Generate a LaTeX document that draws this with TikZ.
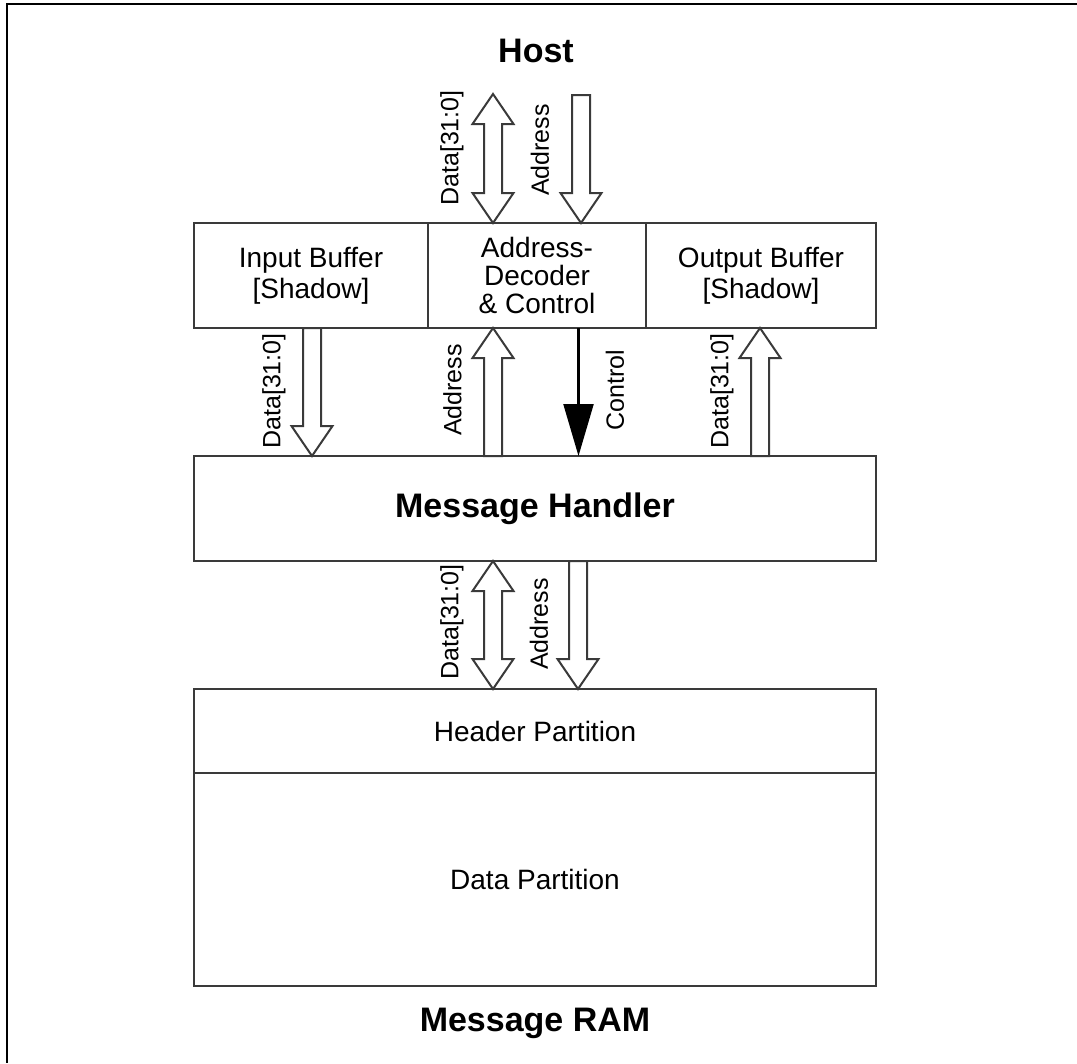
\documentclass[tikz,border=0pt]{standalone}
\usepackage{fontspec}
\setmainfont{Liberation Sans}
\usetikzlibrary{calc,arrows.meta}
\definecolor{boxgray}{HTML}{3A3A3A}
\tikzset{
  box/.style={draw=boxgray, line width=1.5pt, inner sep=0pt, outer sep=0pt, align=center, font=\fontsize{21}{23.25}\selectfont},
  blk/.style={draw=boxgray, fill=white, line width=1.5pt, line join=miter},
  rlab/.style={rotate=90, font=\fontsize{18.75}{20}\selectfont, inner sep=0pt},
  biglab/.style={font=\bfseries\fontsize{25.5}{27}\selectfont, inner sep=0pt},
  ctrl/.style={draw=black, line width=1.6pt, -{Triangle[length=39pt,width=22.5pt]}},
  frame/.style={draw=black, line width=1.6pt, line join=miter}
}
\newcommand\BlkDown[2]{%
  \draw[blk] let \p1=(#1), \p2=(#2) in
  (\x2-6.75pt,\y1) -- (\x2-6.75pt,\y2+22.5pt) -- (\x2-15.375pt,\y2+22.5pt) -- (\x2,\y2)
  -- (\x2+15.375pt,\y2+22.5pt) -- (\x2+6.75pt,\y2+22.5pt) -- (\x2+6.75pt,\y1) -- cycle;}
\newcommand\BlkUp[2]{%
  \draw[blk] let \p1=(#1), \p2=(#2) in
  (\x2-6.75pt,\y1) -- (\x2-6.75pt,\y2-22.5pt) -- (\x2-15.375pt,\y2-22.5pt) -- (\x2,\y2)
  -- (\x2+15.375pt,\y2-22.5pt) -- (\x2+6.75pt,\y2-22.5pt) -- (\x2+6.75pt,\y1) -- cycle;}
\newcommand\BlkBoth[2]{%
  \draw[blk] let \p1=(#1), \p2=(#2) in
  (\x1,\y1) -- (\x1+15.375pt,\y1-22.5pt) -- (\x1+6.75pt,\y1-22.5pt) -- (\x1+6.75pt,\y2+22.5pt)
  -- (\x1+15.375pt,\y2+22.5pt) -- (\x1,\y2) -- (\x1-15.375pt,\y2+22.5pt) -- (\x1-6.75pt,\y2+22.5pt)
  -- (\x1-6.75pt,\y1-22.5pt) -- (\x1-15.375pt,\y1-22.5pt) -- cycle;}
\begin{document}
\begin{tikzpicture}[x=0.75pt,y=-0.75pt]
\useasboundingbox (0,0) rectangle (1077,1063);
% outer frame (top and left edges visible)
\coordinate (fr1) at (1077,4);
\coordinate (fr2) at (7,4);
\coordinate (fr3) at (7,1063);
\draw[frame] (fr1) -- (fr2) -- (fr3);

% labels
\node[biglab] (host) at (536,51) {Host};

% top row
\node[box, minimum width=175.5pt, minimum height=78.75pt] (ib) at (311,275.5) {Input Buffer\\{[Shadow]}};
\node[box, minimum width=163.5pt, minimum height=78.75pt, font=\fontsize{21}{21.25}\selectfont] (adc) at (537,275.5) {Address-\\Decoder\\\& Control};
\node[box, minimum width=172.5pt, minimum height=78.75pt] (ob) at (761,275.5) {Output Buffer\\{[Shadow]}};

% message handler
\node[box, minimum width=511.5pt, minimum height=78.75pt, font=\bfseries\fontsize{25.5}{27}\selectfont] (mh) at (535,508.5) {Message Handler};

% message RAM
\node[box, minimum width=511.5pt, minimum height=63pt] (hp) at (535,731) {Header Partition};
\node[box, minimum width=511.5pt, minimum height=159.75pt] (dp) at (535,879.5) {Data Partition};
\node[biglab] (ram) at (535,1023) {Message RAM};

% x positions
\coordinate (hd) at (493,94);
\coordinate (ha) at (581,95);
\coordinate (xl) at (312,0);
\coordinate (xa) at (493,0);
\coordinate (xc) at (578.5,0);
\coordinate (xr) at (760,0);
\coordinate (xb) at (578,0);

% host arrows
\BlkBoth{hd}{hd |- adc.north}
\BlkDown{ha}{ha |- adc.north}
\node[rlab] (l1) at (452,148) {Data[31:0]};
\node[rlab] (l2) at (540,150) {Address};

% middle arrows
\BlkDown{ib.south -| xl}{mh.north -| xl}
\BlkUp{mh.north -| xa}{adc.south -| xa}
\draw[ctrl] (adc.south -| xc) -- (mh.north -| xc);
\BlkUp{mh.north -| xr}{ob.south -| xr}
\node[rlab] (l3) at (274,391) {Data[31:0]};
\node[rlab] (l4) at (452.5,390) {Address};
\node[rlab] (l5) at (615,390) {Control};
\node[rlab] (l6) at (722,391) {Data[31:0]};

% bottom arrows
\BlkBoth{mh.south -| xa}{hp.north -| xa}
\BlkDown{mh.south -| xb}{hp.north -| xb}
\node[rlab] (l7) at (452,622) {Data[31:0]};
\node[rlab] (l8) at (539,624) {Address};
\end{tikzpicture}
\end{document}
